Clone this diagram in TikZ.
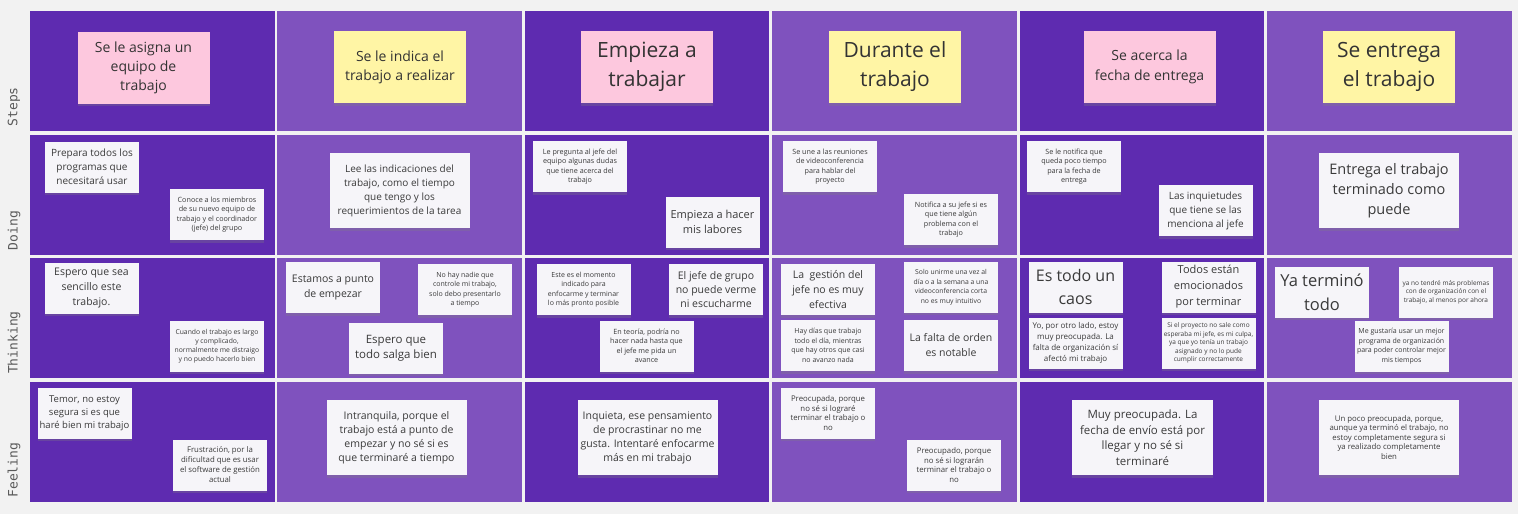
\documentclass[tikz,border=0pt]{standalone}
\usepackage{fontspec}
\setmainfont{Open Sans}
\newfontfamily\monofam{DejaVu Sans Mono}
\usepackage{tikz}
\usetikzlibrary{shadows}
\definecolor{fondo}{HTML}{F2F2F2}
\definecolor{oscuro}{HTML}{5E2BB0}
\definecolor{claro}{HTML}{7F52BE}
\definecolor{rosa}{HTML}{FDC8DE}
\definecolor{amarillo}{HTML}{FFF5A5}
\definecolor{papel}{HTML}{F6F5F9}
\definecolor{tinta}{HTML}{3A3A3A}
\definecolor{rotulo}{HTML}{5A5A5A}
\tikzset{
  letra/.style 2 args={font=\fontsize{#1}{#2}\selectfont},
  nota/.style={fill=papel,text=tinta,align=center,inner sep=2pt,
    drop shadow={shadow xshift=0pt,shadow yshift=-2.5pt,opacity=.3}},
  notachica/.style={nota,minimum width=94pt,minimum height=51pt,letra={7.2}{9.5}},
  notagrande/.style={nota,minimum width=140pt,minimum height=75pt,letra={10}{14}},
  paso/.style={nota,fill=#1,text=black!80,minimum width=132pt,minimum height=72pt,letra={14}{19}},
  titular/.style={letra={21}{29}},
  fila/.style={font=\monofam\fontsize{13}{13}\selectfont,text=rotulo,rotate=90,anchor=west},
}
\begin{document}
\begin{tikzpicture}[x=1pt,y=-1pt]
  \fill[fondo] (0,0) rectangle (1518,514);
  \useasboundingbox (0,0) rectangle (1518,514);
  % celdas del tablero
  \foreach \c/\tono in {0/oscuro,1/claro,2/oscuro,3/claro,4/oscuro,5/claro}
    \foreach \r in {0,...,3}
      \fill[\tono] ({30+247.4*\c},{11+123.7*\r}) rectangle ++(244.6,120);
  \foreach \r/\nombre in {0/Steps,1/Doing,2/Thinking,3/Feeling}
    \node[fila] (fila\r) at (14,{130+123.7*\r}) {\nombre};
  % Steps
  \node[paso=rosa] (paso1) at (143.5,67.5) {Se le asigna un\\equipo de\\trabajo};
  \node[paso=amarillo] (paso2) at (400,67) {Se le indica el\\trabajo a realizar};
  \node[paso=rosa,titular] (paso3) at (647,67) {Empieza a\\trabajar};
  \node[paso=amarillo,titular] (paso4) at (895,67) {Durante el\\trabajo};
  \node[paso=rosa,letra={14}{20}] (paso5) at (1149.5,67) {Se acerca la\\fecha de entrega};
  \node[paso=amarillo,titular] (paso6) at (1389,67) {Se entrega\\el trabajo};
  % Doing
  \node[notachica,letra={10}{14}] (hace1a) at (92,167) {Prepara todos los\\programas que\\necesitará usar};
  \node[notachica] (hace1b) at (217,214.5) {Conoce a los miembros\\de su nuevo equipo de\\trabajo y el coordinador\\(jefe) del grupo};
  \node[notagrande] (hace2) at (399.5,190.5) {Lee las indicaciones del\\trabajo, como el tiempo\\que tengo y los\\requerimientos de la tarea};
  \node[notachica] (hace3a) at (580,166.5) {Le pregunta al jefe del\\equipo algunas dudas\\que tiene acerca del\\trabajo};
  \node[notachica,letra={11}{14.5}] (hace3b) at (712.5,222) {Empieza a hacer\\mis labores};
  \node[notachica] (hace4a) at (830,166.5) {Se une a las reuniones\\de videoconferencia\\para hablar del\\proyecto};
  \node[notachica] (hace4b) at (951,219.5) {Notifica a su jefe si es\\que tiene algún\\problema con el\\trabajo};
  \node[notachica] (hace5a) at (1074,166.5) {Se le notifica que\\queda poco tiempo\\para la fecha de\\entrega};
  \node[notachica,letra={10}{14}] (hace5b) at (1205.5,210.5) {Las inquietudes\\que tiene se las\\menciona al jefe};
  \node[notagrande,letra={14.5}{20}] (hace6) at (1389,190.5) {Entrega el trabajo\\terminado como\\puede};
  % Thinking
  \node[notachica,letra={10.5}{15}] (piensa1a) at (91.5,288) {Espero que sea\\sencillo este\\trabajo.};
  \node[notachica,letra={6.8}{9}] (piensa1b) at (217,346) {Cuando el trabajo es largo\\y complicado,\\normalmente me distraigo\\y no puedo hacerlo bien};
  \node[notachica,letra={10.5}{15}] (piensa2a) at (333,287.5) {Estamos a punto\\de empezar};
  \node[notachica,letra={7}{9.5}] (piensa2b) at (465,289.5) {No hay nadie que\\controle mi trabajo,\\solo debo presentarlo\\a tiempo};
  \node[notachica,letra={11.5}{15}] (piensa2c) at (396,348) {Espero que\\todo salga bien};
  \node[notachica,letra={7}{9.5}] (piensa3a) at (583.5,289.5) {Este es el momento\\indicado para\\enfocarme y terminar\\lo más pronto posible};
  \node[notachica,letra={10.5}{14}] (piensa3b) at (716,289.5) {El jefe de grupo\\no puede verme\\ni escucharme};
  \node[notachica] (piensa3c) at (646.5,346) {En teoría, podría no\\hacer nada hasta que\\el jefe me pida un\\avance};
  \node[notachica,letra={10.5}{15}] (piensa4a) at (828,289.5) {La\ \ gestión del\\jefe no es muy\\efectiva};
  \node[notachica,letra={6.8}{9.5}] (piensa4b) at (951,287) {Solo unirme una vez al\\día o a la semana a una\\videoconferencia corta\\no es muy intuitivo};
  \node[notachica,letra={7}{9.5}] (piensa4c) at (828,345.5) {Hay días que trabajo\\todo el día, mientras\\que hay otros que casi\\no avanzo nada};
  \node[notachica,letra={10.5}{15}] (piensa4d) at (951,345.5) {La falta de orden\\es notable};
  \node[notachica,letra={16}{23}] (piensa5a) at (1075.5,287) {Es todo un\\caos};
  \node[notachica,letra={11}{16}] (piensa5b) at (1208.5,287) {Todos están\\emocionados\\por terminar};
  \node[notachica,letra={8}{11}] (piensa5c) at (1075.5,343) {Yo, por otro lado, estoy\\muy preocupada. La\\falta de organización sí\\afectó mi trabajo};
  \node[notachica,letra={6.5}{8.5}] (piensa5d) at (1208.5,343) {Si el proyecto no sale como\\esperaba mi jefe, es mi culpa,\\ya que yo tenía un trabajo\\asignado y no lo pude\\cumplir correctamente};
  \node[notachica,letra={16.5}{24}] (piensa6a) at (1322,292) {Ya terminó\\todo};
  \node[notachica,letra={6.5}{8.5}] (piensa6b) at (1446,292) {ya no tendré más problemas\\con de organización con el\\trabajo, al menos por ahora};
  \node[notachica,letra={7}{9.5}] (piensa6c) at (1401.5,346) {Me gustaría usar un mejor\\programa de organización\\para poder controlar mejor\\mis tiempos};
  % Feeling
  \node[notachica,letra={9.5}{13}] (siente1a) at (84.5,413) {Temor, no estoy\\segura si es que\\haré bien mi trabajo};
  \node[notachica,letra={7.8}{10}] (siente1b) at (220,465) {Frustración, por la\\dificultad que es usar\\el software de gestión\\actual};
  \node[notagrande,letra={10.5}{14}] (siente2) at (396.5,437.5) {Intranquila, porque el\\trabajo está a punto de\\empezar y no sé si es\\que terminaré a tiempo};
  \node[notagrande,letra={10.5}{14}] (siente3) at (647.5,437.5) {Inquieta, ese pensamiento\\de procrastinar no me\\gusta. Intentaré enfocarme\\más en mi trabajo};
  \node[notachica,letra={7.8}{9.5}] (siente4a) at (828,413) {Preocupada, porque\\no sé si lograré\\terminar el trabajo o\\no};
  \node[notachica,letra={7.8}{9.5}] (siente4b) at (954,465) {Preocupado, porque\\no sé si lograrán\\terminar el trabajo o\\no};
  \node[notagrande,minimum width=141pt,letra={11.5}{15.5}] (siente5) at (1142.5,437.5) {Muy preocupada. La\\fecha de envío está por\\llegar y no sé si\\terminaré};
  \node[notagrande,letra={7.8}{9.5}] (siente6) at (1389,437.5) {Un poco preocupada, porque,\\aunque ya terminó el trabajo, no\\estoy completamente segura si\\ya realizado completamente\\bien};
\end{tikzpicture}
\end{document}
